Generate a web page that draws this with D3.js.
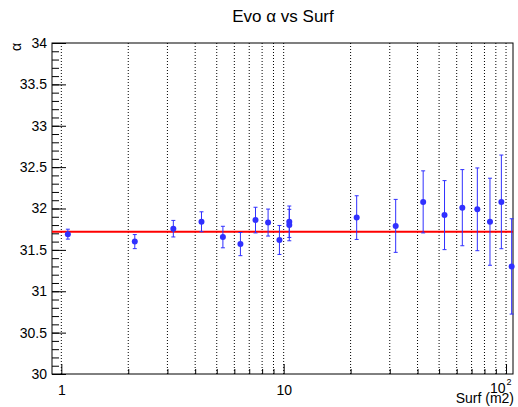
<!DOCTYPE html>
<html>
<head>
<meta charset="utf-8">
<script src="https://cdn.jsdelivr.net/npm/d3@7"></script>
<style>
  body { margin: 0; background: #fff; }
  svg text { font-family: "Liberation Sans", Arial, Helvetica, sans-serif; }
</style>
</head>
<body>
<div class="chart"></div>
<script>
// surface (m2), alpha value, alpha error
const surf  = [1.07, 2.14, 3.19, 4.27, 5.33, 6.39, 7.47, 8.51, 9.57, 10.6, 10.6, 21.3, 31.9, 42.4, 52.9, 63.6, 74.3, 84.7, 95.3, 106];
const alpha = [31.69, 31.60, 31.756, 31.84, 31.655, 31.57, 31.86, 31.83, 31.62, 31.84, 31.80, 31.89, 31.79, 32.08, 31.92, 32.01, 31.99, 31.84, 32.08, 31.30];
const alphaErr = [0.06, 0.085, 0.10, 0.12, 0.13, 0.14, 0.155, 0.163, 0.175, 0.19, 0.19, 0.264, 0.32, 0.375, 0.417, 0.46, 0.50, 0.526, 0.566, 0.576];
const fitValue = 31.72;
const yMajor = [30, 30.5, 31, 31.5, 32, 32.5, 33, 33.5, 34];
const xMajor = [1, 10, 100];

const width = 518, height = 407;
const mLeft = 52, mRight = 513, mTop = 43, mBottom = 374;

const svg = d3.select('.chart').append('svg')
    .attr('width', width)
    .attr('height', height);

const x = d3.scaleLog().domain([0.908, 107.5]).range([mLeft, mRight]);
const y = d3.scaleLinear().domain([30, 34]).range([mBottom, mTop]);

// minor positions on the log axis: 1..9, 10..90, 100
const xMinor = [];
[1, 10, 100].forEach(dec => {
  for (let k = 1; k <= 9; k++) {
    const v = dec * k;
    if (v >= x.domain()[0] && v <= x.domain()[1]) xMinor.push(v);
  }
});
const yMinor = d3.range(300, 341).map(d => d / 10);

// dotted vertical grid
svg.append('g')
    .selectAll('line')
    .data(xMinor)
    .enter().append('line')
    .attr('x1', d => x(d)).attr('x2', d => x(d))
    .attr('y1', mTop).attr('y2', mBottom)
    .attr('stroke', '#000')
    .attr('stroke-width', 1)
    .attr('stroke-dasharray', '1,2');

// y axis: ticks point into the frame
svg.append('g')
    .attr('transform', `translate(${mLeft},0)`)
    .call(d3.axisLeft(y).tickValues(yMinor).tickSize(-7).tickSizeOuter(0).tickFormat(''))
    .call(g => g.select('.domain').remove());
svg.append('g')
    .attr('transform', `translate(${mLeft},0)`)
    .call(d3.axisLeft(y).tickValues(yMajor).tickSize(-14).tickSizeOuter(0).tickPadding(5)
        .tickFormat(d => d3.format('~g')(d)))
    .call(g => g.select('.domain').remove())
    .call(g => g.selectAll('text').attr('font-size', 14).attr('fill', '#000')
        .attr('font-family', '"Liberation Sans", Arial, sans-serif'));

// x axis
svg.append('g')
    .attr('transform', `translate(0,${mBottom})`)
    .call(d3.axisBottom(x).tickValues(xMinor.filter(v => !xMajor.includes(v))).tickSize(-5).tickSizeOuter(0).tickFormat(''))
    .call(g => g.select('.domain').remove());
svg.append('g')
    .attr('transform', `translate(0,${mBottom})`)
    .call(d3.axisBottom(x).tickValues(xMajor).tickSize(-10).tickSizeOuter(0).tickPadding(11)
        .tickFormat(d => d === 100 ? '' : String(d)))
    .call(g => g.select('.domain').remove())
    .call(g => g.selectAll('text').attr('font-size', 14).attr('fill', '#000')
        .attr('font-family', '"Liberation Sans", Arial, sans-serif'));

// 10^2 label
svg.append('text')
    .attr('x', x(100) - 0.5)
    .attr('y', 393)
    .attr('text-anchor', 'end')
    .attr('font-size', 14)
    .text('10');
svg.append('text')
    .attr('x', x(100) + 0.5)
    .attr('y', 385)
    .attr('font-size', 9)
    .text('2');

// frame
svg.append('rect')
    .attr('x', mLeft).attr('y', mTop)
    .attr('width', mRight - mLeft).attr('height', mBottom - mTop)
    .attr('fill', 'none')
    .attr('stroke', '#000')
    .attr('stroke-width', 1);

// fit line
svg.append('line')
    .attr('x1', mLeft).attr('x2', mRight)
    .attr('y1', y(fitValue)).attr('y2', y(fitValue))
    .attr('stroke', '#ff0000')
    .attr('stroke-width', 2);

// points with error bars
const points = surf.map((s, i) => ({s: s, a: alpha[i], e: alphaErr[i]}));
const blue = '#3030ff';
const pts = svg.append('g')
    .selectAll('g')
    .data(points)
    .enter().append('g');
pts.append('line')
    .attr('x1', d => x(d.s)).attr('x2', d => x(d.s))
    .attr('y1', d => y(d.a + d.e)).attr('y2', d => y(d.a - d.e))
    .attr('stroke', blue).attr('stroke-width', 1);
pts.append('line')
    .attr('x1', d => x(d.s) - 2).attr('x2', d => x(d.s) + 2)
    .attr('y1', d => y(d.a + d.e)).attr('y2', d => y(d.a + d.e))
    .attr('stroke', blue).attr('stroke-width', 1);
pts.append('line')
    .attr('x1', d => x(d.s) - 2).attr('x2', d => x(d.s) + 2)
    .attr('y1', d => y(d.a - d.e)).attr('y2', d => y(d.a - d.e))
    .attr('stroke', blue).attr('stroke-width', 1);
pts.append('circle')
    .attr('cx', d => x(d.s))
    .attr('cy', d => y(d.a))
    .attr('r', 3)
    .attr('fill', blue);

// title and axis titles
svg.append('text')
    .attr('x', 283)
    .attr('y', 22)
    .attr('text-anchor', 'middle')
    .attr('font-size', 17)
    .text('Evo α vs Surf');

svg.append('text')
    .attr('transform', `translate(21,${mTop}) rotate(-90)`)
    .attr('text-anchor', 'end')
    .attr('font-size', 14)
    .text('α');

svg.append('text')
    .attr('x', 514)
    .attr('y', 403)
    .attr('text-anchor', 'end')
    .attr('font-size', 14)
    .text('Surf (m2)');
</script>
</body>
</html>
